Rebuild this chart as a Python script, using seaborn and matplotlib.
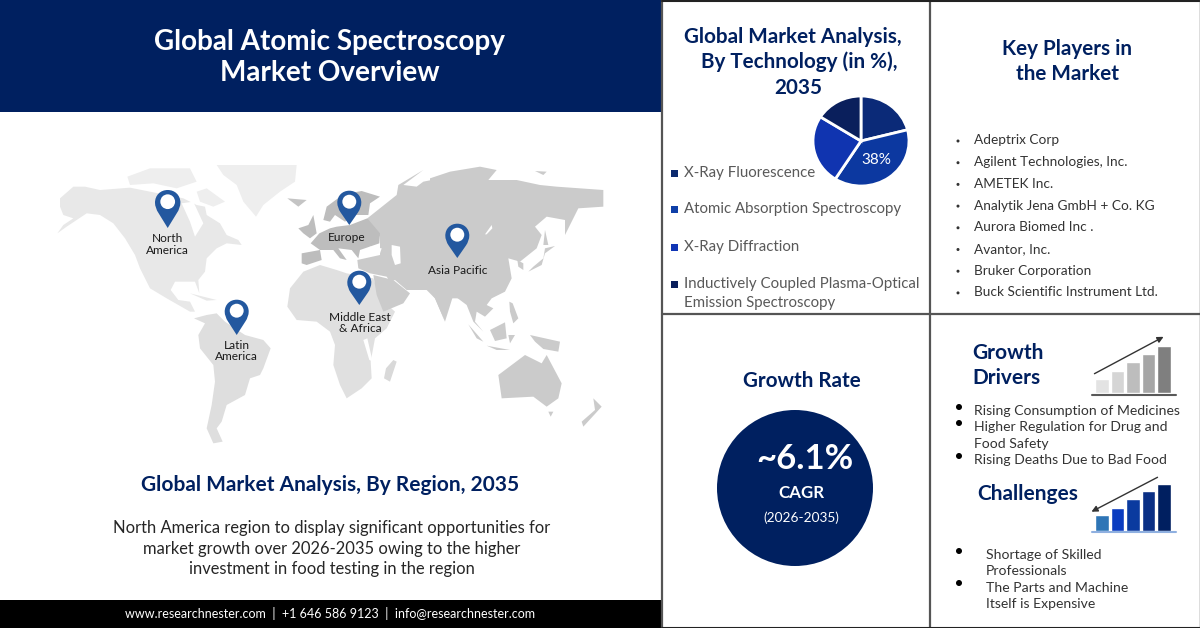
import matplotlib
matplotlib.use("Agg")
import matplotlib.pyplot as plt
from matplotlib.patches import Polygon, Circle, Rectangle, PathPatch
from matplotlib.path import Path
import seaborn as sns
import pandas as pd

sns.set_theme(style="white")
plt.rcParams['font.family'] = ['Lato', 'DejaVu Sans']

NAVY = "#002060"
# ---- data
tech_labels = ["X-Ray Fluorescence", "Atomic Absorption Spectroscopy", "X-Ray Diffraction",
               "Inductively Coupled Plasma-Optical\nEmission Spectroscopy"]
tech_values = [21, 38, 25, 16]
tech_colors = ["#0b2a78", "#0c38a0", "#1034b0", "#0a1f5c"]
players = ["Adeptrix Corp", "Agilent Technologies, Inc.", "AMETEK Inc.", "Analytik Jena GmbH + Co. KG",
           "Aurora Biomed Inc .", "Avantor, Inc.", "Bruker Corporation", "Buck Scientific Instrument Ltd."]
growth_bars = [14, 22, 31, 39, 47]
growth_colors = ["#e3e3e3", "#d5d5d5", "#bdbdbd", "#a6a6a6", "#7f7f7f"]
challenge_bars = [16, 23, 32, 40, 47]
challenge_colors = ["#2e75b6", "#0a3cc0", "#0a3a9f", "#0a2f85", "#001f60"]
# name, head x, head y, tip y, radius, label centre x, label line ys
pins = [(["North", "America"], 167.7, 202.7, 228, 12.7, 167.7, [239, 250.7]),
        (["Europe"], 349.3, 202.7, 225, 12, 347, [237.3]),
        (["Asia Pacific"], 457.3, 235.7, 258, 12, 458, [270]),
        (["Middle East", "& Africa"], 359.3, 282.7, 305, 12, 360, [317.7, 329]),
        (["Latin", "America"], 236.7, 311.7, 335, 12, 236.7, [345.3, 356.7])]

# map shapes as (crop origin x, crop origin y, fill, outline at 3x crop scale)
A, B, C = (50, 165), (280, 165), (430, 165)
land = [
 (A, "#eeeeee", [(500,0),(740,0),(735,50),(690,80),(640,120),(618,155),(580,110),(560,60),(520,30)]),
 (A, "#eeeeee", [(240,60),(232,35),(300,10),(420,10),(440,50),(380,70),(310,55)]),
 (A, "#eeeeee", [(440,80),(470,70),(525,110),(490,125),(450,110)]),
 (A, "#e8e8e8", [(30,100),(70,65),(105,65),(150,75),(240,68),(300,80),(400,100),(440,120),(465,125),(470,150),(510,175),(530,210),(565,225),(575,240),(530,235),(500,250),(470,280),(465,320),(445,345),(448,385),(435,350),(375,350),(362,375),(385,405),(420,410),(435,440),(420,440),(350,400),(300,370),(270,310),(255,270),(225,220),(190,175),(150,150),(110,145),(80,165),(50,185),(22,205),(40,180),(70,160),(40,150),(30,125)]),
 (A, "#ffffff", [(395,115),(430,110),(460,175),(435,215),(420,170)]),
 (A, "#e8e8e8", [(420,385),(500,405),(470,407)]),
 (A, "#dedede", [(432,460),(470,450),(500,445),(525,470),(585,510),(640,525),(662,550),(640,610),(630,630),(600,640),(585,690),(530,720),(515,770),(500,790),(518,830),(490,835),(470,790),(485,720),(495,650),(490,600),(450,550),(445,510),(465,475)]),
 (B, "#c4c4c4", [(22,100),(80,105),(55,125)]),
 (B, "#e0e0e0", [(22,425),(30,370),(70,320),(120,300),(170,315),(200,325),(280,340),(300,400),(345,440),(320,490),(285,520),(272,590),(275,640),(245,670),(200,700),(180,660),(160,600),(165,540),(150,500),(110,470),(50,465)]),
 (B, "#ffffff", [(250,525),(262,520),(278,590),(268,585)]),
 (B, "#d9d9d9", [(340,585),(350,590),(330,650),(312,640),(318,610)]),
 (B, "#cbcbcb", [(262,160),(350,90),(355,60),(430,15),(370,60),(410,65),(430,50),(480,40),(540,20),(540,400),(470,400),(495,470),(465,400),(440,375),(380,375),(345,345),(330,350),(320,335),(270,325),(235,310),(232,285),(300,270),(300,215),(262,170)]),
 (B, "#cbcbcb", [(280,330),(340,345),(390,385),(370,415),(310,440),(290,390)]),
 (C, "#cbcbcb", [(0,40),(60,20),(150,5),(200,15),(175,45),(260,45),(330,60),(380,65),(520,75),(520,125),(445,130),(405,210),(405,165),(350,155),(315,185),(335,210),(320,250),(270,290),(235,280),(245,340),(225,380),(185,400),(170,420),(190,430),(165,455),(140,440),(135,470),(160,500),(130,470),(110,420),(70,390),(45,470),(15,400),(0,380)]),
 (B, "#bdbdbd", [(65,265),(120,255),(125,285),(80,300),(65,295)]),
 (B, "#bdbdbd", [(120,255),(92,235),(118,205),(150,190),(170,185),(210,180),(262,160),(300,205),(298,235),(240,255),(235,280),(215,255),(175,250),(200,285),(180,280),(160,255)]),
 (B, "#bdbdbd", [(130,165),(140,125),(190,88),(245,78),(300,95),(270,115),(265,150),(225,150),(195,170),(165,150),(150,170)]),
 (B, "#bdbdbd", [(55,190),(85,180),(100,150),(110,205),(90,220),(70,205)]),
 (B, "#ffffff", [(335,240),(360,245),(362,295),(345,300),(335,270)]),
 (B, "#ffffff", [(240,270),(270,245),(305,250),(300,265),(265,270)]),
 (C, "#ffffff", [(185,180),(165,208),(170,208),(187,190)]),
 (C, "#cbcbcb", [(285,330),(310,305),(340,280),(345,250),(375,243),(345,265),(335,300),(295,320)]),
 (C, "#cbcbcb", [(345,195),(355,240),(340,240)]),
 (C, "#cbcbcb", [(262,285),(280,295),(280,315),(265,305)]),
 (C, "#cbcbcb", [(238,410),(248,415),(265,460),(250,475),(240,440)]),
 (C, "#cbcbcb", [(115,478),(160,530),(140,520)]),
 (C, "#cbcbcb", [(170,542),(240,555),(200,555)]),
 (C, "#cbcbcb", [(180,495),(225,472),(230,520),(195,528)]),
 (C, "#cbcbcb", [(235,510),(255,510),(240,535)]),
 (C, "#cbcbcb", [(300,510),(390,530),(385,560),(340,552),(315,530)]),
 (C, "#cbcbcb", [(205,630),(285,570),(335,595),(350,570),(395,655),(385,700),(350,725),(310,695),(215,700)]),
 (C, "#cbcbcb", [(490,700),(515,725),(460,785),(455,770),(495,735)]),
 (C, "#cbcbcb", [(355,740),(370,740),(362,755)]),
 (C, "#cbcbcb", [(315,18),(350,20),(340,30)]),
]

fig = plt.figure(figsize=(12, 6.28), dpi=100, facecolor="white")
ax = fig.add_axes([0, 0, 1, 1])
ax.set_xlim(0, 1200); ax.set_ylim(628, 0); ax.axis("off")

def T(x, y, s, size, color="#262626", weight="normal", ha="center", z=6, target=None):
    (target or ax).text(x, y, s, fontsize=size, color=color, fontweight=weight, ha=ha, va="center", zorder=z)

# panels
ax.add_patch(Rectangle((0, 0), 662, 112, color=NAVY, lw=0))
ax.add_patch(Rectangle((0, 600), 662, 28, color="#000000", lw=0))
ax.plot([662, 662], [0, 628], color="#555555", lw=1.6)
ax.plot([929.5, 929.5], [0, 628], color="#555555", lw=1.6)
ax.plot([662, 1200], [314, 314], color="#555555", lw=1.6)
ax.plot([662, 1200], [0.5, 0.5], color="#222222", lw=1.5)
ax.plot([662, 1200], [627.5, 627.5], color="#222222", lw=1.5)
ax.plot([1199.5, 1199.5], [0, 628], color="#555555", lw=1)

T(330, 42, "Global Atomic Spectroscopy", 20.1, "white", "bold")
T(330, 73, "Market Overview", 20.1, "white", "bold")
T(330, 485, "Global Market Analysis, By Region, 2035", 15.0, NAVY, "bold")
T(332, 528, "North America region to display significant opportunities for", 11.9)
T(332, 549, "market growth over 2026-2035 owing to the higher", 11.9)
T(332, 569, "investment in food testing in the region", 11.9)
T(330, 614, "www.researchnester.com  |  +1 646 586 9123  |  info@researchnester.com", 9.0, "white")

# map
for (ox, oy), col, poly in land:
    pts = [(ox + x / 3, oy + y / 3) for x, y in poly]
    ax.add_patch(Polygon(pts, closed=True, fc=col, ec="none", zorder=2))

# pins
for lines, cx, cy, tip, r, lx, ly in pins:
    verts = [(cx, tip), (cx - r * .72, cy + r * .82), (cx - r, cy + r * .42), (cx - r, cy),
             (cx - r, cy - r * .6), (cx - r * .56, cy - r), (cx, cy - r),
             (cx + r * .56, cy - r), (cx + r, cy - r * .6), (cx + r, cy),
             (cx + r, cy + r * .42), (cx + r * .72, cy + r * .82), (cx, tip), (cx, tip)]
    codes = [Path.MOVETO, Path.LINETO, Path.CURVE3, Path.CURVE3, Path.CURVE4, Path.CURVE4, Path.CURVE4,
             Path.CURVE4, Path.CURVE4, Path.CURVE4, Path.CURVE3, Path.CURVE3, Path.LINETO, Path.CLOSEPOLY]
    ax.add_patch(PathPatch(Path(verts, codes), fc="#23589f", ec="none", zorder=4))
    ax.add_patch(Circle((cx, cy - 1), r * .58, fc="white", ec="none", zorder=5))
    for line, y in zip(lines, ly):
        T(lx, y, line, 8.6, "#1a1a1a")

# technology panel
T(793, 37, "Global Market Analysis,", 14.9, NAVY, "bold")
T(799, 62, "By Technology (in %),", 14.9, NAVY, "bold")
T(798, 88, "2035", 14.9, NAVY, "bold")
pie_h = 2 * 45 / 0.93
pie_w = 2 * 48 / 0.93
pie_ax = fig.add_axes([(861 - pie_w / 2) / 1200, 1 - (141 + pie_h / 2) / 628, pie_w / 1200, pie_h / 628])
wedges, _ = pie_ax.pie(tech_values, colors=tech_colors, startangle=90, counterclock=False, radius=0.93,
                       wedgeprops=dict(edgecolor="white", linewidth=2))
pie_ax.set_aspect("auto")
pie_ax.set_xlim(-1, 1); pie_ax.set_ylim(-1, 1)
pie_ax.text(0.29, -0.40, "38%", fontsize=11, color="white", ha="center", va="center")
pie_ax.patch.set_alpha(0)
leg_y = [173, 209, 247, 284]
leg_col = ["#0c2a6e", "#0f3fa8", "#1035b5", "#0a1f5c"]
for lab, y, c in zip(tech_labels, leg_y, leg_col):
    ax.add_patch(Rectangle((671, y - 3.5), 7, 7, fc=c, ec="none", zorder=6))
    for i, line in enumerate(lab.split("\n")):
        T(684, y + i * 19.5, line, 10.8, "#595959", ha="left")

# key players
T(1067, 49, "Key Players in", 14.9, NAVY, "bold")
T(1067, 74, "the Market", 14.9, NAVY, "bold")
for i, p in enumerate(players):
    y = 140.5 + i * 21.7
    T(974, y, p, 9.8, "#333333", ha="left")
    ax.add_patch(Circle((958, y + .5), 1.5, fc="#333333", ec="none", zorder=6))

# growth rate
T(802, 381, "Growth Rate", 14.9, NAVY, "bold")
ax.add_patch(Circle((795, 488), 78, fc=NAVY, ec="none", zorder=3))
T(805, 459, "~6.1%", 25, "white", "bold")
T(801, 493, "CAGR", 12.2, "white", "bold")
T(801, 518, "(2026-2035)", 9.8, "white")

# drivers
T(972, 353, "Growth", 15.0, NAVY, "bold", ha="left")
T(972, 378, "Drivers", 15.0, NAVY, "bold", ha="left")
T(977, 494, "Challenges", 15.0, NAVY, "bold", ha="left")
for y, s in [(411, "Rising Consumption of Medicines"), (427, "Higher Regulation for Drug and"),
             (444, "Food Safety"), (460, "Rising Deaths Due to Bad Food")]:
    T(974, y, s, 10.05, "#333333", ha="left")
for y in [407, 423, 456]:
    ax.add_patch(Circle((959, y), 3, fc="black", ec="none", zorder=6))
for y, s in [(555, "Shortage of Skilled"), (571, "Professionals"), (588, "The Parts and Machine"), (604, "Itself is Expensive")]:
    T(986, y, s, 10.05, "#333333", ha="left")
for y in [551, 583]:
    ax.add_patch(Circle((959, y), 3, fc="black", ec="none", zorder=6))

def icon(values, colors, base):
    bx = fig.add_axes([1094 / 1200, 1 - base / 628, 78 / 1200, 48 / 628])
    df = pd.DataFrame({"pos": range(len(values)), "val": values})
    sns.barplot(data=df, x="pos", y="val", hue="pos", palette=colors, legend=False, width=0.86, ax=bx, saturation=1)
    bx.set_ylim(0, 48); bx.axis("off"); bx.patch.set_alpha(0)

icon(growth_bars, growth_colors, 392.7)
icon(challenge_bars, challenge_colors, 530.7)
ax.plot([1092, 1176], [395, 395], color="#595959", lw=1.5)
ax.plot([1092, 1176], [531.8, 531.8], color="#8fb0e0", lw=1.5)
ax.annotate("", xy=(1166, 335.5), xytext=(1092, 375), arrowprops=dict(arrowstyle="-|>", color="#333333", lw=1, mutation_scale=9), zorder=7)
ax.annotate("", xy=(1089, 513), xytext=(1160, 476), arrowprops=dict(arrowstyle="-|>", color="#333333", lw=1, mutation_scale=9), zorder=7)

fig.savefig("out.png", dpi=100)
